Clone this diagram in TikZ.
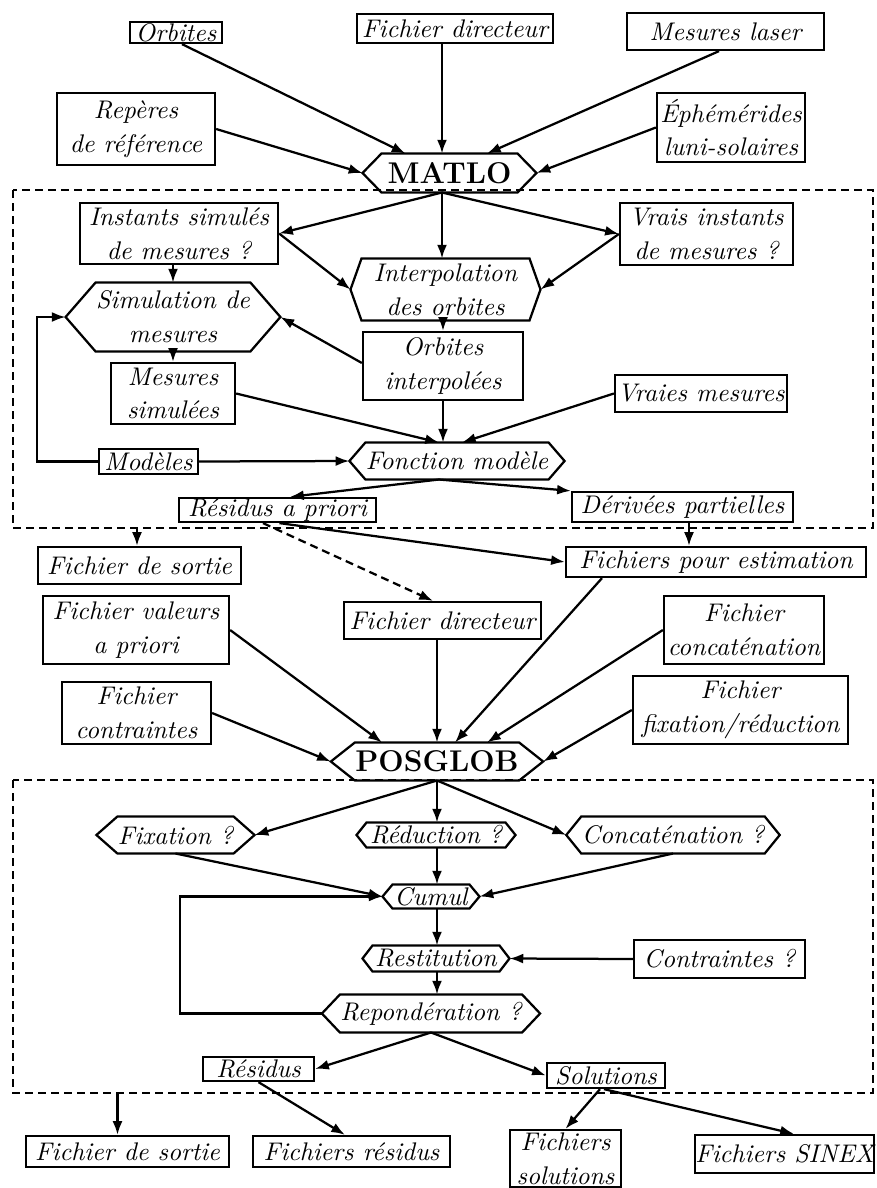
\documentclass[tikz,border=0pt]{standalone}
\usetikzlibrary{calc,arrows.meta}
\newcommand\itf{\fontsize{10.2}{13.5}\selectfont\itshape}
\newcommand\bff{\fontsize{12}{14}\selectfont\bfseries}
\tikzset{
  box/.style={draw, line width=0.9pt, font=\itf, align=center, inner sep=0pt},
  hexbody/.style={align=center, inner sep=0pt},
  ln/.style={line width=0.9pt},
  arr/.style={line width=0.9pt, -{Latex[length=5.5pt,width=4pt]}},
  darr/.style={arr, dash pattern=on 3.2pt off 2pt},
  frame/.style={line width=0.7pt, dash pattern=on 3.2pt off 2pt}
}
\newcommand\mybox[6]{\node[box, minimum width=#4*0.4pt, minimum height=#5*0.4pt] (#1) at (#2,#3) {#6};}
\newcommand\myhex[8]{%
  \node[hexbody, font=#8, minimum width=#4*0.4pt, minimum height=#5*0.4pt] (#1) at (#2,#3) {#7};
  \draw[ln] (#1.north west) -- (#1.north east) -- ($(#1.east)+(#6,0)$) coordinate (#1-r)
    -- (#1.south east) -- (#1.south west) -- ($(#1.west)-(#6,0)$) coordinate (#1-l) -- cycle;}
\begin{document}
\begin{tikzpicture}[x=0.4pt,y=-0.4pt]
\useasboundingbox (0,0) rectangle (877,1188);
% dashed frames
\coordinate (b1nw) at (13,190); \coordinate (b1se) at (873,528);
\coordinate (b2nw) at (13,780); \coordinate (b2se) at (873,1093);
\draw[frame] (b1nw) rectangle (b1se);
\draw[frame] (b2nw) rectangle (b2se);
\coordinate (vx) at (437,0);

% ---- top inputs
\mybox{orb}{176}{32.5}{92}{21}{Orbites}
\mybox{fdir1}{455}{28.5}{196}{29}{Fichier directeur}
\mybox{mlas}{725.5}{31.5}{197}{37}{Mesures laser}
\mybox{rep}{136}{129}{158}{72}{Repères\\de référence}
\mybox{eph}{731}{127.5}{148}{69}{Éphémérides\\luni-solaires}
\myhex{matlo}{449.5}{173}{135}{38}{19}{MATLO}{\bff}

% ---- MATLO section
\mybox{inst}{179}{233.5}{198}{61}{Instants simulés\\de mesures ?}
\mybox{vrai}{706.5}{234}{173}{62}{Vrais instants\\de mesures ?}
\myhex{interp}{445.5}{289.5}{167}{61}{11}{Interpolation\\des orbites}{\itf}
\myhex{sim}{173}{317}{150}{68}{30}{Simulation de\\mesures}{\itf}
\mybox{msim}{173}{393.5}{124}{61}{Mesures\\simulées}
\mybox{oint}{443}{366}{160}{68}{Orbites\\interpolées}
\mybox{vmes}{701}{393.5}{172}{37}{Vraies mesures}
\mybox{mod}{148.5}{461.5}{99}{25}{Modèles}
\myhex{fonct}{457}{461}{176}{36}{16}{Fonction modèle}{\itf}
\mybox{resap}{277.5}{510}{197}{24}{Résidus a priori}
\mybox{deriv}{682.5}{507}{221}{30}{Dérivées partielles}

% ---- middle
\mybox{fsort1}{139.5}{565.5}{203}{37}{Fichier de sortie}
\mybox{fest}{716}{562}{300}{30}{Fichiers pour estimation}
\mybox{fdir2}{442.5}{620.5}{197}{37}{Fichier directeur}
\mybox{fval}{136}{630}{186}{68}{Fichier valeurs\\a priori}
\mybox{fconc}{744}{630}{160}{68}{Fichier\\concaténation}
\mybox{fcontr}{136.5}{713}{149}{62}{Fichier\\contraintes}
\mybox{ffix}{740.5}{710}{215}{68}{Fichier\\fixation/réduction}
\myhex{posglob}{437}{761.5}{160}{37}{24}{POSGLOB}{\bff}

% ---- POSGLOB section
\myhex{fix}{175.5}{835}{105}{36}{21}{Fixation ?}{\itf}
\myhex{red}{436}{835}{138}{24}{10}{Réduction ?}{\itf}
\myhex{conc}{673}{835}{178}{36}{15}{Concaténation ?}{\itf}
\myhex{cumul}{431}{896.5}{76}{23}{10}{Cumul}{\itf}
\myhex{rest}{436}{958.5}{126}{25}{10}{Restitution}{\itf}
\mybox{contr}{719.5}{959}{171}{38}{Contraintes ?}
\myhex{repond}{431}{1013.5}{172}{37}{18}{Repondération ?}{\itf}
\mybox{resid}{258.5}{1069}{111}{24}{Résidus}
\mybox{sol}{606}{1075.5}{118}{25}{Solutions}

% ---- outputs
\mybox{fsort2}{127.5}{1151.5}{203}{31}{Fichier de sortie}
\mybox{fres}{351.5}{1151.5}{197}{31}{Fichiers résidus}
\mybox{fsol}{565.5}{1158.5}{111}{57}{Fichiers\\solutions}
\mybox{fsinex}{784.5}{1154}{179}{38}{Fichiers SINEX}

% ---- connectors: into MATLO
\draw[arr] ($(orb.south)+(6,0)$) -- ($(matlo.north)+(-44,0)$);
\draw[arr] ($(fdir1.south)+(-13,0)$) -- ($(matlo.north)+(-7.5,0)$);
\draw[arr] ($(mlas.south)+(-6.5,0)$) -- ($(matlo.north)+(37.5,0)$);
\draw[arr] (rep.east) -- (matlo-l);
\draw[arr] (eph.west) -- (matlo-r);
% out of MATLO
\draw[arr] ($(matlo.south)+(-7.5,0)$) -- (inst.east);
\draw[arr] ($(matlo.south)+(-7.5,0)$) -- ($(interp.north)+(-3.5,0)$);
\draw[arr] ($(matlo.south)+(-7.5,0)$) -- (vrai.west);
\draw[arr] (inst.east) -- (interp-l);
\draw[arr] (vrai.west) -- (interp-r);
\draw[arr] (inst.south -| sim.north) -- (sim.north);
\draw[arr] (interp.south -| oint.north) -- (oint.north);
\draw[arr] ($(oint.west)+(0,-3)$) -- (sim-r);
\draw[arr] (sim.south) -- (msim.north);
\draw[arr] (msim.east) -- ($(fonct.north)+(-18,0)$);
\draw[arr] (oint.south) -- (oint.south |- fonct.north);
\draw[arr] (vmes.west) -- ($(fonct.north)+(5,0)$);
\draw[arr] (mod.west) -- ++(-61,0) |- (sim-l);
\draw[arr] (mod.east) -- (fonct-l);
\draw[arr] ($(fonct.south)+(-18,0)$) -- ($(resap.north)+(12.5,0)$);
\draw[arr] ($(fonct.south)+(-18,0)$) -- (deriv.north west);

% ---- middle connectors
\path ($(fsort1.north)+(-2.5,0)$) coordinate (fs1);
\draw[arr] (fs1 |- b1se) -- (fs1);
\draw[darr] ($(resap.south)+(-14.5,0)$) -- ($(fdir2.north)+(-9.5,0)$);
\draw[arr] ($(resap.south)+(2,0)$) -- (fest.west);
\path ($(deriv.south)+(6.5,0)$) coordinate (dv);
\draw[arr] (dv) -- (dv |- fest.north);
\draw[arr] (fval.east) -- ($(posglob.north)+(-55,0)$);
\draw[arr] (fcontr.east) -- (posglob-l);
\draw[arr] (fdir2.south -| posglob.north) -- (posglob.north);
\draw[arr] ($(fest.south)+(-114,0)$) -- ($(posglob.north)+(18,0)$);
\draw[arr] (fconc.west) -- ($(posglob.north)+(50,0)$);
\draw[arr] (ffix.west) -- (posglob-r);

% ---- POSGLOB section connectors
\draw[arr] (posglob.south) -- (fix-r);
\draw[arr] (posglob.south) -- (posglob.south |- red.north);
\draw[arr] (posglob.south) -- (conc-l);
\draw[arr] (vx |- red.south) -- (vx |- cumul.north);
\draw[arr] (fix.south) -- (cumul-l);
\draw[arr] (conc.south) -- (cumul-r);
\draw[arr] (vx |- cumul.south) -- (vx |- rest.north);
\draw[arr] (vx |- rest.south) -- (vx |- repond.north);
\draw[arr] (contr.west) -- (rest-r);
\draw[arr] (repond-l) -- ++(-142,0) |- (cumul-l);
\draw[arr] (repond.south) -- (resid.east);
\draw[arr] (repond.south) -- (sol.west);

% ---- outputs connectors
\path ($(fsort2.north)+(-10,0)$) coordinate (fs2);
\draw[arr] (fs2 |- b2se) -- (fs2);
\draw[arr] (resid.south) -- ($(fres.north)+(-6.5,0)$);
\draw[arr] ($(sol.south)+(-6,0)$) -- (fsol.north);
\draw[arr] ($(sol.south)+(-2,0)$) -- ($(fsinex.north)+(9.5,0)$);
\end{tikzpicture}
\end{document}
